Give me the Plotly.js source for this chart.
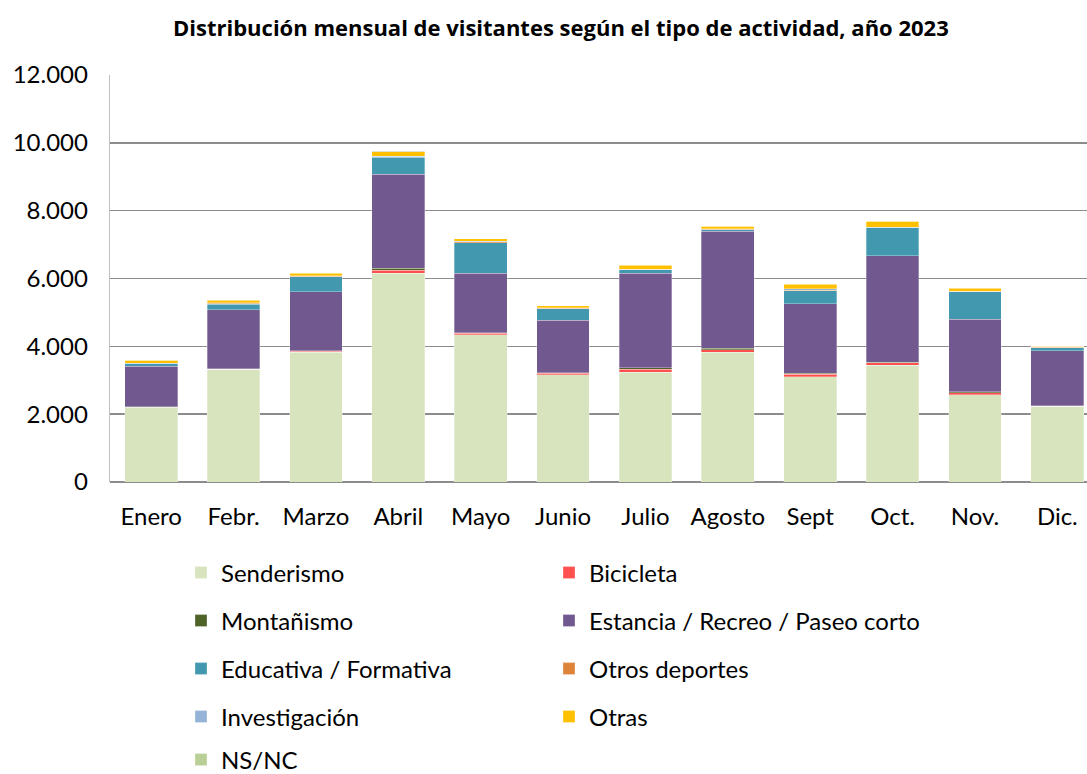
<!DOCTYPE html>
<html><head><meta charset="utf-8">
<script src="https://cdn.plot.ly/plotly-3.0.1.min.js"></script>
<style>body{margin:0;background:#fff}#c{width:1087px;height:774px}</style>
</head><body><div id="c"></div>
<script>
const months = ["Enero","Febr.","Marzo","Abril","Mayo","Junio","Julio","Agosto","Sept","Oct.","Nov.","Dic."];
const senderismo   = [2200,3320,3830,6150,4340,3160,3230,3820,3110,3440,2580,2230];
const bicicleta    = [15,10,30,100,40,50,100,80,60,70,50,10];
const montanismo   = [5,5,15,50,20,15,40,40,30,20,30,10];
const estancia     = [1190,1745,1730,2770,1760,1540,2780,3450,2060,3140,2140,1620];
const educativa    = [70,155,450,500,900,350,110,50,380,820,810,90];
const otrosDep     = [10,40,10,15,30,10,10,10,10,10,10,15];
const investigacion= [5,10,15,15,10,10,10,10,50,10,10,10];
const otras        = [100,80,70,140,70,60,110,80,130,180,90,15];
const nsnc         = [0,15,20,10,5,0,10,5,10,5,5,5];

const seriesNames = ["Senderismo","Bicicleta","Montañismo","Estancia / Recreo / Paseo corto","Educativa / Formativa","Otros deportes","Investigación","Otras","NS/NC"];
const seriesData = [senderismo,bicicleta,montanismo,estancia,educativa,otrosDep,investigacion,otras,nsnc];
const colors = ["#D7E4BD","#FF5050","#4F6228","#71588F","#4198AF","#DD843A","#95B3D7","#FFC000","#B9CF96"];

const font = "Lato, 'Noto Sans', sans-serif";
const legId = i => i===0 ? "legend" : "legend"+(i+1);
const traces = seriesNames.map((n,i)=>({
  type:"bar", name:n, x:months, y:seriesData[i],
  marker:{color:colors[i], line:{color:"rgba(255,255,255,0.6)", width:0.5}},
  width:0.64,
  legend: legId(i),
  hoverinfo:"name+y"
}));

const rowsY = [573,621,669,717,760];
const colX = [181,549];
const layout = {
  width:1087, height:774, barmode:"stack",
  paper_bgcolor:"#fff", plot_bgcolor:"#fff",
  separators:",.",
  margin:{l:110,r:0,t:75,b:292},
  title:{text:"<b>Distribución mensual de visitantes según el tipo de actividad, año 2023</b>",
    font:{family:"'Open Sans', Lato, sans-serif",size:22,color:"#000"}, x:0.516, xanchor:"center", y:0.964, yanchor:"middle"},
  xaxis:{type:"category", range:[-0.5,11.36], showgrid:false, showline:false, ticks:"",
    ticklabelstandoff:18, tickangle:0,
    tickfont:{family:font,size:24,color:"#000"}, fixedrange:true},
  yaxis:{range:[0,12000], tickvals:[0,2000,4000,6000,8000,10000,12000], tickformat:",d",
    showgrid:true, gridcolor:"#8C8C8C", gridwidth:1.6, zeroline:true, zerolinecolor:"#8C8C8C", zerolinewidth:1.6,
    showline:true, linecolor:"#BFBFBF", linewidth:1.3, ticklabelstandoff:16,
    tickfont:{family:font,size:24,color:"#000"}, ticks:"", fixedrange:true},
  showlegend:true
};
seriesNames.forEach((n,i)=>{
  layout[legId(i)] = {orientation:"h", xref:"container", yref:"container",
    x:colX[i%2]/1087, xanchor:"left", y:1-rowsY[Math.floor(i/2)]/774, yanchor:"middle",
    font:{family:font,size:24,color:"#000"}, bgcolor:"rgba(0,0,0,0)", itemclick:false};
});
Plotly.newPlot("c", traces, layout, {displayModeBar:false, staticPlot:true});
</script></body></html>
